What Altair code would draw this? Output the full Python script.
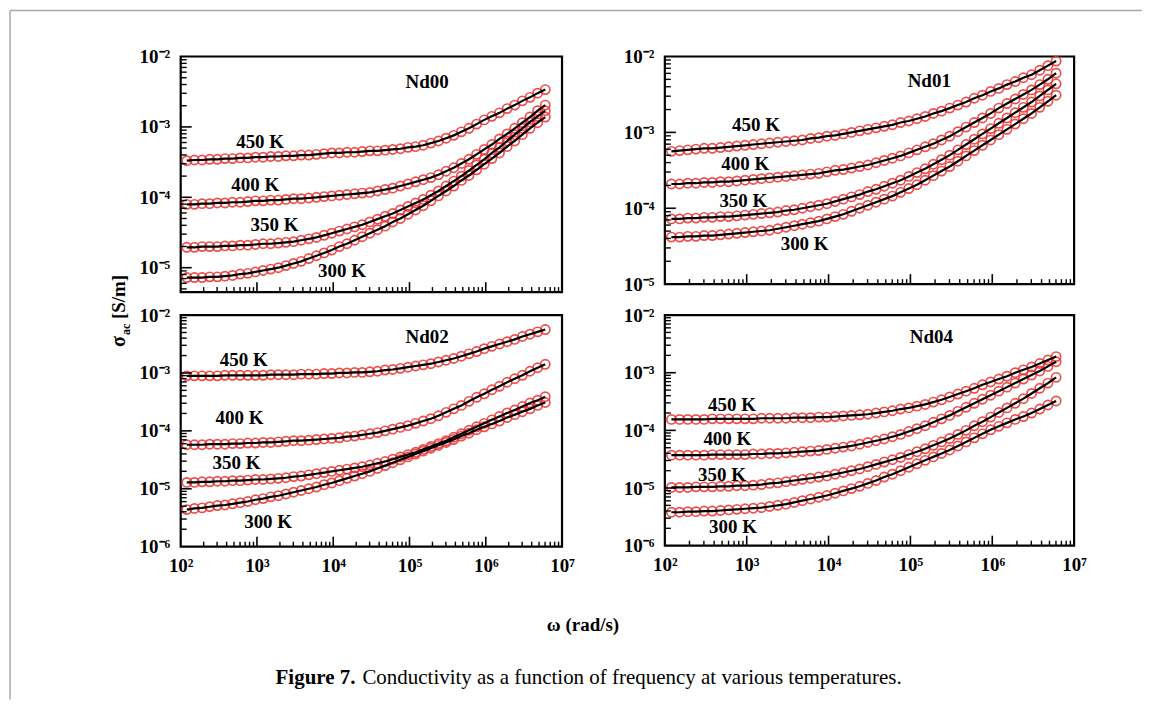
import altair as alt
import pandas as pd

# ---------------- data ----------------
# log10 of angular frequency (rad/s) of the measured points
LOG_OMEGA = [2.08, 2.18, 2.28, 2.38, 2.48, 2.58, 2.68, 2.78, 2.88, 2.98,
             3.08, 3.18, 3.28, 3.38, 3.48, 3.58, 3.68, 3.78, 3.88, 3.98,
             4.08, 4.18, 4.28, 4.38, 4.48, 4.58, 4.68, 4.78, 4.88, 4.98,
             5.08, 5.18, 5.28, 5.38, 5.48, 5.58, 5.68, 5.78, 5.88, 5.98,
             6.08, 6.18, 6.28, 6.38, 6.48, 6.58, 6.68, 6.78]

TEMPS = ["300 K", "350 K", "400 K", "450 K"]

# log10 of sigma_ac (S/m)
ND00 = {
    "450 K": [-3.48, -3.47, -3.47, -3.46, -3.46, -3.45, -3.45, -3.44, -3.44, -3.43,
              -3.43, -3.42, -3.42, -3.41, -3.41, -3.40, -3.40, -3.39, -3.38, -3.37,
              -3.37, -3.36, -3.36, -3.35, -3.34, -3.34, -3.33, -3.32, -3.31, -3.29,
              -3.28, -3.26, -3.23, -3.20, -3.16, -3.12, -3.07, -3.02, -2.96, -2.90,
              -2.85, -2.80, -2.74, -2.69, -2.63, -2.58, -2.52, -2.47],
    "400 K": [-4.10, -4.10, -4.09, -4.09, -4.08, -4.08, -4.07, -4.07, -4.06, -4.05,
              -4.05, -4.04, -4.04, -4.03, -4.02, -4.02, -4.01, -4.00, -3.99, -3.98,
              -3.97, -3.96, -3.95, -3.94, -3.93, -3.91, -3.89, -3.87, -3.84, -3.81,
              -3.78, -3.75, -3.72, -3.68, -3.63, -3.58, -3.52, -3.46, -3.39, -3.32,
              -3.25, -3.17, -3.10, -3.02, -2.94, -2.86, -2.77, -2.69],
    "350 K": [-4.71, -4.71, -4.70, -4.70, -4.70, -4.69, -4.69, -4.68, -4.68, -4.67,
              -4.66, -4.66, -4.65, -4.64, -4.63, -4.61, -4.59, -4.57, -4.54, -4.51,
              -4.48, -4.45, -4.42, -4.39, -4.35, -4.31, -4.27, -4.23, -4.18, -4.13,
              -4.08, -4.03, -3.97, -3.91, -3.84, -3.77, -3.70, -3.62, -3.54, -3.46,
              -3.37, -3.29, -3.20, -3.11, -3.02, -2.93, -2.85, -2.77],
    "300 K": [-5.14, -5.14, -5.14, -5.13, -5.13, -5.12, -5.11, -5.09, -5.08, -5.06,
              -5.04, -5.02, -5.00, -4.97, -4.94, -4.91, -4.87, -4.83, -4.79, -4.75,
              -4.70, -4.66, -4.61, -4.56, -4.51, -4.46, -4.41, -4.35, -4.30, -4.24,
              -4.18, -4.12, -4.05, -3.98, -3.91, -3.84, -3.76, -3.69, -3.61, -3.53,
              -3.45, -3.37, -3.28, -3.20, -3.11, -3.02, -2.94, -2.86],
}

ND01 = {
    "450 K": [-3.25, -3.24, -3.23, -3.22, -3.21, -3.21, -3.20, -3.19, -3.18, -3.17,
              -3.16, -3.15, -3.14, -3.13, -3.12, -3.11, -3.10, -3.08, -3.07, -3.05,
              -3.04, -3.02, -3.00, -2.98, -2.96, -2.94, -2.92, -2.90, -2.87, -2.85,
              -2.82, -2.79, -2.75, -2.72, -2.68, -2.64, -2.60, -2.55, -2.51, -2.46,
              -2.42, -2.37, -2.33, -2.28, -2.24, -2.18, -2.12, -2.06],
    "400 K": [-3.68, -3.68, -3.67, -3.67, -3.66, -3.66, -3.65, -3.65, -3.64, -3.63,
              -3.62, -3.61, -3.60, -3.59, -3.58, -3.57, -3.56, -3.55, -3.54, -3.52,
              -3.50, -3.49, -3.47, -3.45, -3.43, -3.40, -3.37, -3.34, -3.31, -3.27,
              -3.23, -3.19, -3.15, -3.10, -3.05, -2.99, -2.93, -2.87, -2.81, -2.75,
              -2.68, -2.62, -2.56, -2.50, -2.44, -2.37, -2.30, -2.22],
    "350 K": [-4.14, -4.14, -4.13, -4.13, -4.12, -4.12, -4.11, -4.11, -4.10, -4.09,
              -4.08, -4.07, -4.06, -4.05, -4.03, -4.02, -4.00, -3.98, -3.96, -3.94,
              -3.91, -3.88, -3.85, -3.82, -3.78, -3.75, -3.71, -3.67, -3.63, -3.58,
              -3.53, -3.48, -3.42, -3.36, -3.30, -3.23, -3.16, -3.09, -3.02, -2.95,
              -2.88, -2.81, -2.74, -2.67, -2.60, -2.52, -2.44, -2.36],
    "300 K": [-4.38, -4.38, -4.37, -4.37, -4.36, -4.36, -4.35, -4.34, -4.33, -4.32,
              -4.31, -4.30, -4.29, -4.27, -4.25, -4.23, -4.21, -4.19, -4.17, -4.14,
              -4.11, -4.08, -4.04, -4.00, -3.96, -3.92, -3.88, -3.84, -3.79, -3.74,
              -3.69, -3.63, -3.57, -3.51, -3.45, -3.38, -3.31, -3.24, -3.17, -3.10,
              -3.03, -2.96, -2.89, -2.82, -2.75, -2.67, -2.59, -2.51],
}

ND02 = {
    "450 K": [-3.05, -3.05, -3.05, -3.05, -3.05, -3.04, -3.04, -3.04, -3.04, -3.04,
              -3.04, -3.03, -3.03, -3.03, -3.03, -3.02, -3.02, -3.02, -3.01, -3.01,
              -3.00, -3.00, -2.99, -2.99, -2.98, -2.97, -2.95, -2.94, -2.92, -2.90,
              -2.88, -2.86, -2.84, -2.81, -2.78, -2.75, -2.71, -2.67, -2.63, -2.58,
              -2.54, -2.50, -2.46, -2.42, -2.37, -2.33, -2.29, -2.25],
    "400 K": [-4.24, -4.24, -4.24, -4.23, -4.23, -4.23, -4.22, -4.22, -4.21, -4.21,
              -4.20, -4.20, -4.19, -4.18, -4.17, -4.17, -4.16, -4.15, -4.14, -4.13,
              -4.12, -4.10, -4.09, -4.07, -4.05, -4.03, -4.00, -3.97, -3.94, -3.91,
              -3.87, -3.83, -3.79, -3.74, -3.68, -3.62, -3.56, -3.49, -3.42, -3.36,
              -3.29, -3.23, -3.16, -3.10, -3.04, -2.97, -2.91, -2.85],
    "350 K": [-4.89, -4.89, -4.88, -4.88, -4.87, -4.87, -4.86, -4.86, -4.85, -4.84,
              -4.84, -4.83, -4.82, -4.81, -4.79, -4.78, -4.76, -4.74, -4.72, -4.70,
              -4.68, -4.66, -4.64, -4.62, -4.59, -4.56, -4.53, -4.49, -4.45, -4.41,
              -4.37, -4.32, -4.27, -4.22, -4.17, -4.11, -4.05, -3.99, -3.93, -3.87,
              -3.81, -3.75, -3.69, -3.64, -3.58, -3.52, -3.47, -3.41],
    "300 K": [-5.36, -5.34, -5.33, -5.31, -5.29, -5.28, -5.26, -5.24, -5.22, -5.19,
              -5.17, -5.14, -5.12, -5.09, -5.06, -5.03, -5.00, -4.97, -4.93, -4.90,
              -4.86, -4.82, -4.78, -4.74, -4.70, -4.65, -4.60, -4.55, -4.50, -4.45,
              -4.40, -4.35, -4.30, -4.25, -4.20, -4.15, -4.09, -4.04, -3.98, -3.93,
              -3.88, -3.83, -3.77, -3.72, -3.67, -3.62, -3.56, -3.51],
}

ND04 = {
    "450 K": [-3.81, -3.81, -3.81, -3.81, -3.81, -3.80, -3.80, -3.80, -3.80, -3.80,
              -3.80, -3.79, -3.79, -3.79, -3.79, -3.78, -3.78, -3.78, -3.77, -3.77,
              -3.76, -3.75, -3.74, -3.73, -3.72, -3.70, -3.68, -3.66, -3.63, -3.61,
              -3.58, -3.55, -3.51, -3.47, -3.42, -3.37, -3.32, -3.27, -3.21, -3.16,
              -3.11, -3.06, -3.00, -2.95, -2.90, -2.84, -2.78, -2.72],
    "400 K": [-4.43, -4.43, -4.43, -4.43, -4.43, -4.42, -4.42, -4.42, -4.42, -4.42,
              -4.41, -4.41, -4.40, -4.40, -4.39, -4.38, -4.37, -4.36, -4.35, -4.33,
              -4.31, -4.29, -4.27, -4.24, -4.21, -4.18, -4.15, -4.11, -4.07, -4.02,
              -3.97, -3.92, -3.86, -3.80, -3.74, -3.67, -3.60, -3.53, -3.46, -3.39,
              -3.32, -3.25, -3.18, -3.11, -3.04, -2.97, -2.89, -2.81],
    "350 K": [-4.99, -4.99, -4.99, -4.98, -4.98, -4.98, -4.97, -4.97, -4.96, -4.96,
              -4.95, -4.94, -4.92, -4.91, -4.89, -4.87, -4.85, -4.83, -4.81, -4.79,
              -4.76, -4.73, -4.70, -4.67, -4.63, -4.59, -4.55, -4.51, -4.47, -4.42,
              -4.37, -4.32, -4.26, -4.20, -4.14, -4.07, -4.00, -3.92, -3.85, -3.77,
              -3.69, -3.61, -3.53, -3.45, -3.36, -3.27, -3.18, -3.08],
    "300 K": [-5.42, -5.42, -5.41, -5.41, -5.40, -5.40, -5.39, -5.38, -5.37, -5.36,
              -5.35, -5.34, -5.32, -5.30, -5.28, -5.25, -5.22, -5.19, -5.16, -5.13,
              -5.09, -5.05, -5.01, -4.97, -4.92, -4.87, -4.81, -4.76, -4.70, -4.64,
              -4.58, -4.52, -4.46, -4.40, -4.34, -4.27, -4.20, -4.13, -4.06, -3.99,
              -3.93, -3.87, -3.81, -3.76, -3.70, -3.63, -3.56, -3.49],
}

# in-panel annotations (text, omega, sigma)
LBL_ND00 = (["Nd00", "450 K", "400 K", "350 K", "300 K"],
            [1.7e5, 1.1e3, 9.5e2, 1.7e3, 1.3e4],
            [4.4e-3, 6.1e-4, 1.5e-4, 4.0e-5, 9.1e-6])
LBL_ND01 = (["Nd01", "450 K", "400 K", "350 K", "300 K"],
            [1.7e5, 1.3e3, 9.6e2, 9.1e2, 5.1e3],
            [4.8e-3, 1.25e-3, 3.8e-4, 1.26e-4, 3.4e-5])
LBL_ND02 = (["Nd02", "450 K", "400 K", "350 K", "300 K"],
            [1.7e5, 6.7e2, 5.9e2, 5.4e2, 1.4e3],
            [4.2e-3, 1.66e-3, 1.66e-4, 2.8e-5, 2.7e-6])
LBL_ND04 = (["Nd04", "450 K", "400 K", "350 K", "300 K"],
            [1.8e5, 6.6e2, 5.8e2, 5.0e2, 6.8e2],
            [4.2e-3, 2.7e-4, 7.2e-5, 1.7e-5, 2.1e-6])

X_DECADES = [1e2, 1e3, 1e4, 1e5, 1e6, 1e7]

FONT = "Liberation Serif"
RED = "#e8322f"

EXP = "round(log(datum.value)/LN10)"
LABEL_EXPR = ("'10' + (" + EXP + " < 0 ? '\u207b' : '') + substring('\u2070\u00b9\u00b2\u00b3\u2074\u2075\u2076\u2077\u2078\u2079', abs("
              + EXP + "), abs(" + EXP + ") + 1)")


def long_df(series):
    rows = []
    for t in TEMPS:
        for lw, ls in zip(LOG_OMEGA, series[t]):
            rows.append({"omega": 10 ** lw, "sigma": 10 ** ls, "T": t})
    return pd.DataFrame(rows)


def minor_ticks(lo, hi):
    out = []
    for e in range(-7, 8):
        for m in range(2, 10):
            v = m * 10.0 ** e
            if lo < v < hi:
                out.append(v)
    return out


def major_ticks(lo, hi):
    return [10.0 ** e for e in range(-7, 8) if lo * 1.01 < 10.0 ** e < hi * 0.99]


def panel(series, labels, ydom, w, h, xlabels):
    xscale = alt.Scale(type="log", domain=[1e2, 1e7], nice=False)
    yscale = alt.Scale(type="log", domain=ydom, nice=False)
    ydec = [v for v in [1e-6, 1e-5, 1e-4, 1e-3, 1e-2] if ydom[0] * 0.99 <= v <= ydom[1] * 1.01]
    xaxis = alt.Axis(values=X_DECADES, labelExpr=LABEL_EXPR, ticks=False, domain=False,
                     grid=False, title=None, labels=xlabels, labelFlush=False,
                     labelOverlap=False, labelPadding=10, labelFontSize=19,
                     labelFont=FONT, labelFontWeight="bold", labelColor="black")
    yaxis = alt.Axis(values=ydec, labelExpr=LABEL_EXPR, ticks=False, domain=False,
                     grid=False, title=None, labelFlush=False, labelOverlap=False,
                     labelPadding=11, labelFontSize=19, labelFont=FONT,
                     labelFontWeight="bold", labelColor="black")
    df = long_df(series)
    X = alt.X("omega:Q", scale=xscale, axis=xaxis)
    Y = alt.Y("sigma:Q", scale=yscale, axis=yaxis)

    pts = alt.Chart(df).mark_point(shape="circle", filled=False, color=RED, size=85,
                                   strokeWidth=1.7, opacity=0.85).encode(x=X, y=Y, detail="T:N")
    line = alt.Chart(df).mark_line(color="black", strokeWidth=2.2).encode(x=X, y=Y, detail="T:N")

    lab = pd.DataFrame({"label": labels[0], "omega": labels[1], "sigma": labels[2]})
    txt = alt.Chart(lab).mark_text(font=FONT, fontWeight="bold", fontSize=19,
                                   align="center", baseline="middle", color="black").encode(
        x=X, y=Y, text="label:N")

    xmaj = pd.DataFrame({"v": [1e3, 1e4, 1e5, 1e6]})
    xmin = pd.DataFrame({"v": minor_ticks(1e2, 1e7)})
    ymaj = pd.DataFrame({"v": major_ticks(*ydom)})
    ymin = pd.DataFrame({"v": minor_ticks(*ydom)})
    XV = alt.X("v:Q", scale=xscale, axis=xaxis)
    YV = alt.Y("v:Q", scale=yscale, axis=yaxis)
    t1 = alt.Chart(xmaj).mark_rule(color="black", strokeWidth=1.6).encode(
        x=XV, y=alt.value(h), y2=alt.value(h - 10))
    t2 = alt.Chart(xmin).mark_rule(color="black", strokeWidth=1.4).encode(
        x=XV, y=alt.value(h), y2=alt.value(h - 5))
    t3 = alt.Chart(ymaj).mark_rule(color="black", strokeWidth=1.6).encode(
        y=YV, x=alt.value(0), x2=alt.value(11))
    t4 = alt.Chart(ymin).mark_rule(color="black", strokeWidth=1.4).encode(
        y=YV, x=alt.value(0), x2=alt.value(6))
    return [pts, line, txt, t1, t2, t3, t4], w, h


one = pd.DataFrame({"a": [0]})


def decorations():
    # positions relative to the upper-left panel's origin
    frame_top = alt.Chart(one).mark_rule(color="#a8a8a8", strokeWidth=1.5).encode(
        x=alt.value(-171), x2=alt.value(963), y=alt.value(-46))
    frame_left = alt.Chart(one).mark_rule(color="#a8a8a8", strokeWidth=1.5).encode(
        x=alt.value(-171), y=alt.value(-46), y2=alt.value(644))
    sig = alt.Chart(one).mark_text(font=FONT, fontWeight="bold", fontSize=20, angle=270,
                                   align="left", baseline="middle", color="black").encode(
        x=alt.value(-62), y=alt.value(291), text=alt.value("\u03c3"))
    sub = alt.Chart(one).mark_text(font=FONT, fontWeight="bold", fontSize=12, angle=270,
                                   align="left", baseline="middle", color="black").encode(
        x=alt.value(-55), y=alt.value(279), text=alt.value("ac"))
    unit = alt.Chart(one).mark_text(font=FONT, fontWeight="bold", fontSize=19, angle=270,
                                    align="left", baseline="middle", color="black").encode(
        x=alt.value(-62), y=alt.value(263), text=alt.value("[S/m]"))
    xlab = alt.Chart(one).mark_text(font=FONT, fontWeight="bold", fontSize=19,
                                    align="center", baseline="middle", color="black").encode(
        x=alt.value(403), y=alt.value(569), text=alt.value("\u03c9 (rad/s)"))
    cap1 = alt.Chart(one).mark_text(font=FONT, fontWeight="bold", fontSize=21,
                                    align="left", baseline="middle", color="black").encode(
        x=alt.value(95), y=alt.value(623), text=alt.value("Figure 7."))
    cap2 = alt.Chart(one).mark_text(font=FONT, fontSize=21,
                                    align="left", baseline="middle", color="black").encode(
        x=alt.value(182), y=alt.value(623),
        text=alt.value("Conductivity as a function of frequency at various temperatures."))
    return [frame_top, frame_left, sig, sub, unit, xlab, cap1, cap2]


specs = [
    panel(ND00, LBL_ND00, [4.5e-6, 1e-2], 382, 236, False),
    panel(ND01, LBL_ND01, [1e-5, 1e-2], 410, 228, False),
    panel(ND02, LBL_ND02, [1e-6, 1e-2], 382, 232, True),
    panel(ND04, LBL_ND04, [1e-6, 1e-2], 410, 231, True),
]

charts = []
for i, (layers, w, h) in enumerate(specs):
    if i == 0:
        layers = layers + decorations()
    charts.append(alt.layer(*layers).properties(
        width=w, height=h, view=alt.ViewBackground(stroke="black", strokeWidth=2.2)))

chart = alt.concat(*charts, columns=2, spacing={"row": 23, "column": 103},
                   bounds="flush").properties(padding=0).configure(
    background="white", view=alt.ViewConfig(stroke="black", strokeWidth=2.2))

chart.save("out.html", embed_options={"renderer": "svg", "actions": False})
